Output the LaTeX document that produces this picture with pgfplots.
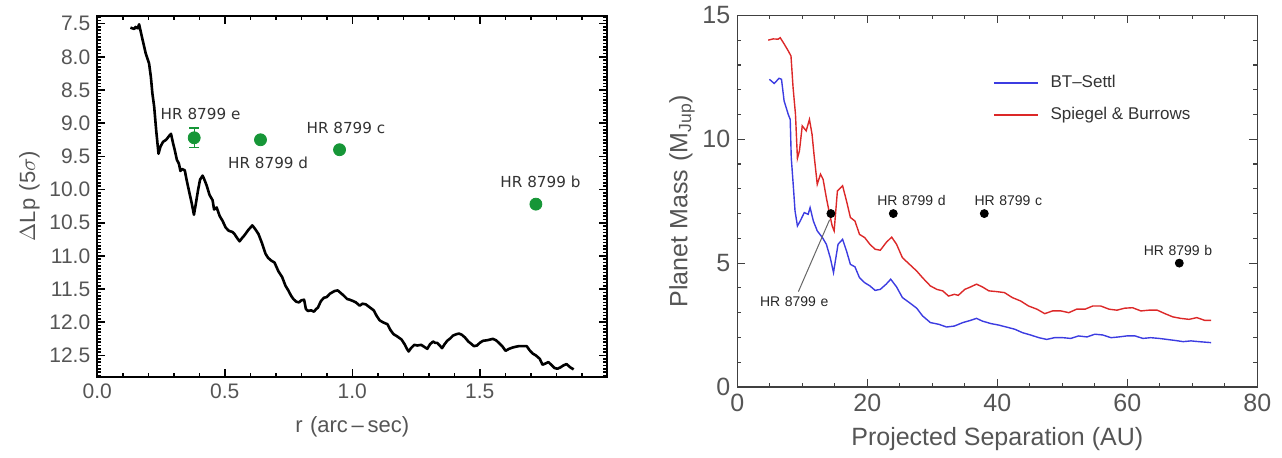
\documentclass[border=0pt]{standalone}
\usepackage{fontspec}
\setmainfont{Liberation Sans}
\newfontfamily\dejavu{DejaVu Sans}
\usepackage{pgfplots}
\pgfplotsset{compat=1.18}
\definecolor{dotgreen}{RGB}{22,150,55}
\definecolor{tickgray}{RGB}{85,85,85}
\definecolor{sbred}{RGB}{220,40,40}
\definecolor{btblue}{RGB}{60,60,225}

\pgfplotstableread{
r dl
0.130 7.56
0.145 7.58
0.150 7.55
0.158 7.57
0.164 7.51
0.175 7.70
0.190 7.95
0.203 8.10
0.210 8.30
0.216 8.55
0.223 8.75
0.231 9.11
0.240 9.46
0.248 9.35
0.258 9.28
0.270 9.25
0.280 9.20
0.289 9.16
0.297 9.30
0.304 9.41
0.312 9.55
0.320 9.61
0.326 9.72
0.332 9.69
0.343 9.71
0.350 9.85
0.359 10.01
0.370 10.20
0.379 10.38
0.387 10.20
0.395 10.01
0.403 9.85
0.413 9.79
0.421 9.86
0.429 9.94
0.440 10.08
0.452 10.16
0.458 10.30
0.468 10.27
0.480 10.40
0.491 10.47
0.503 10.57
0.515 10.62
0.530 10.64
0.538 10.67
0.550 10.74
0.558 10.78
0.568 10.73
0.577 10.69
0.592 10.61
0.608 10.54
0.620 10.60
0.632 10.67
0.645 10.80
0.660 10.97
0.670 11.03
0.682 11.07
0.695 11.10
0.710 11.23
0.725 11.32
0.738 11.45
0.749 11.52
0.760 11.60
0.769 11.65
0.780 11.69
0.791 11.70
0.800 11.67
0.811 11.66
0.818 11.80
0.826 11.83
0.838 11.82
0.850 11.84
0.858 11.80
0.865 11.78
0.877 11.68
0.889 11.63
0.900 11.62
0.912 11.57
0.930 11.53
0.943 11.52
0.955 11.56
0.967 11.60
0.980 11.65
0.990 11.66
1.003 11.68
1.014 11.70
1.029 11.75
1.040 11.72
1.053 11.73
1.070 11.78
1.084 11.82
1.095 11.90
1.107 11.97
1.120 12.00
1.138 12.03
1.150 12.12
1.162 12.18
1.175 12.21
1.193 12.26
1.205 12.33
1.214 12.40
1.221 12.44
1.230 12.39
1.243 12.34
1.255 12.35
1.270 12.34
1.282 12.37
1.294 12.40
1.305 12.33
1.317 12.29
1.325 12.31
1.333 12.31
1.343 12.35
1.352 12.39
1.362 12.33
1.372 12.28
1.385 12.24
1.395 12.20
1.408 12.18
1.419 12.17
1.430 12.19
1.442 12.23
1.455 12.29
1.465 12.32
1.477 12.36
1.489 12.35
1.500 12.31
1.512 12.28
1.530 12.27
1.551 12.25
1.563 12.27
1.575 12.31
1.588 12.36
1.601 12.43
1.615 12.40
1.629 12.38
1.640 12.37
1.653 12.36
1.670 12.36
1.684 12.36
1.695 12.42
1.707 12.47
1.720 12.50
1.735 12.55
1.746 12.64
1.758 12.62
1.769 12.60
1.780 12.64
1.793 12.69
1.805 12.70
1.816 12.68
1.828 12.65
1.840 12.63
1.855 12.68
1.868 12.71
}\contrast

\pgfplotstableread{
x m
4.75 14.00
5.5 14.05
6.29 14.04
6.6 14.10
7.2 13.85
7.83 13.57
8.26 13.36
8.58 12.09
8.95 11.01
9.25 9.23
9.56 9.53
9.99 10.54
10.6 10.34
11.1 10.80
11.5 10.20
11.8 9.39
12.3 8.18
12.8 8.59
13.2 8.38
13.7 7.64
14.1 7.11
14.6 6.50
14.9 6.30
15.4 7.91
16.2 8.12
16.8 7.51
17.4 6.84
18.1 6.70
18.8 6.16
19.6 6.03
20.4 5.76
21.2 5.56
22.0 5.52
22.9 5.83
23.75 6.05
24.5 5.76
25.4 5.22
26.5 4.95
27.6 4.68
28.5 4.41
29.7 4.08
30.7 3.94
31.6 3.88
32.5 3.67
33.4 3.74
34.0 3.70
35.0 3.94
35.9 4.04
36.8 4.15
37.7 4.04
38.7 3.88
39.9 3.85
41.1 3.81
42.3 3.61
43.6 3.47
44.8 3.27
46.1 3.14
47.3 2.96
48.5 3.07
49.8 3.07
51.0 3.00
52.2 3.14
53.5 3.14
54.7 3.27
55.9 3.27
57.2 3.14
58.4 3.10
59.6 3.18
60.8 3.20
62.1 3.07
63.3 3.10
64.6 3.10
65.8 2.96
67.0 2.83
68.2 2.77
69.5 2.73
70.7 2.80
71.9 2.69
72.9 2.69
}\spiegel

\pgfplotstableread{
x m
4.94 12.42
5.68 12.25
6.42 12.46
6.8 12.42
7.2 11.55
7.83 11.01
8.14 10.80
8.3 9.26
8.6 8.18
8.88 7.11
9.25 6.50
9.68 6.70
10.3 7.04
10.9 6.97
11.2 7.24
11.7 6.70
12.3 6.30
13.1 6.03
13.7 5.76
14.3 5.22
14.8 4.62
15.5 5.76
16.2 5.96
16.8 5.49
17.4 4.95
18.1 4.85
18.8 4.41
19.6 4.21
20.4 4.08
21.2 3.90
22.0 3.94
22.9 4.15
23.6 4.35
24.5 4.04
25.4 3.61
26.5 3.40
27.6 3.18
28.5 2.87
29.7 2.60
31.0 2.53
32.2 2.42
33.4 2.46
34.7 2.60
35.9 2.69
36.8 2.77
37.7 2.66
39.0 2.56
40.2 2.50
41.4 2.42
42.7 2.33
43.9 2.19
45.1 2.10
46.4 1.99
47.6 1.92
48.8 1.99
50.1 1.99
51.3 1.96
52.5 2.06
53.8 2.02
55.0 2.13
56.2 2.10
57.5 1.99
58.7 2.02
59.9 2.06
61.2 2.06
62.4 1.96
63.6 1.99
64.9 1.96
66.1 1.92
67.3 1.88
68.6 1.83
69.8 1.86
71.0 1.83
72.9 1.79
}\btsettl

\begin{document}
\begin{tikzpicture}[x=1pt,y=1pt]
\path (0,0) rectangle (641,223.5);
% ---------------- left panel ----------------
\begin{axis}[
  at={(176.15pt,127.25pt)}, anchor=center,
  width=255pt, height=180.5pt, scale only axis,
  xmin=0, xmax=2, ymin=7.38, ymax=12.82, y dir=reverse,
  axis line style={black, line width=1pt},
  xtick={0,0.5,1,1.5,2}, xticklabels={0.0,0.5,1.0,1.5,},
  minor x tick num=4,
  ytick={7.5,8,8.5,9,9.5,10,10.5,11,11.5,12,12.5},
  yticklabels={7.5,8.0,8.5,9.0,9.5,10.0,10.5,11.0,11.5,12.0,12.5},
  minor ytick={7.40,7.45,7.55,7.60,7.65,7.70,7.75,7.80,7.85,7.90,7.95,8.05,8.10,8.15,8.20,8.25,8.30,8.35,8.40,8.45,8.55,8.60,8.65,8.70,8.75,8.80,8.85,8.90,8.95,9.05,9.10,9.15,9.20,9.25,9.30,9.35,9.40,9.45,9.55,9.60,9.65,9.70,9.75,9.80,9.85,9.90,9.95,10.05,10.10,10.15,10.20,10.25,10.30,10.35,10.40,10.45,10.55,10.60,10.65,10.70,10.75,10.80,10.85,10.90,10.95,11.05,11.10,11.15,11.20,11.25,11.30,11.35,11.40,11.45,11.55,11.60,11.65,11.70,11.75,11.80,11.85,11.90,11.95,12.05,12.10,12.15,12.20,12.25,12.30,12.35,12.40,12.45,12.55,12.60,12.65,12.70,12.75,12.80},
  major tick length=4pt, minor tick length=2pt,
  tick style={black, line width=0.8pt},
  tick align=inside,
  xticklabel pos=bottom,
  tick label style={font=\fontsize{10.5}{12}\selectfont, text=tickgray},
  /pgf/number format/assume math mode=true,
  xlabel={r\,\,(arc\,--\,sec)},
  ylabel={$\Delta$Lp\,\,(5$\sigma$)},
  label style={font=\fontsize{11}{13}\selectfont, text=tickgray},
  xlabel style={yshift=-2pt},
  ylabel style={yshift=-2pt},
  clip=false,
]
\addplot[black, line width=1.3pt, line join=round] table[x=r, y=dl] {\contrast};
\addplot[only marks, mark=*, mark size=3pt, color=dotgreen,
  error bars/.cd, y dir=both, y explicit,
  error bar style={line width=0.7pt, dotgreen}, error mark options={rotate=90, mark size=2.5pt, dotgreen, line width=0.7pt}]
  coordinates {(0.38,9.22) +- (0,0.15)};
\addplot[only marks, mark=*, mark size=3pt, color=dotgreen]
  coordinates {(0.64,9.25) (0.95,9.40) (1.72,10.22)};
\begin{scope}[every node/.style={font=\dejavu\fontsize{7.6}{9}\selectfont, text=black!80}]
\node at (axis cs:0.405,8.86) {HR 8799 e};
\node at (axis cs:0.67,9.60) {HR 8799 d};
\node at (axis cs:0.975,9.07) {HR 8799 c};
\node at (axis cs:1.738,9.89) {HR 8799 b};
\end{scope}
\end{axis}
% ---------------- right panel ----------------
\begin{axis}[
  at={(498.65pt,124.75pt)}, anchor=center,
  width=260pt, height=185.8pt, scale only axis,
  xmin=0, xmax=80, ymin=0, ymax=15,
  axis line style={black!75, line width=0.7pt},
  xtick={0,20,40,60,80}, minor x tick num=3,
  ytick={0,5,10,15}, minor y tick num=4,
  major tick length=4pt, minor tick length=2pt,
  tick style={black!75, line width=0.6pt},
  tick align=inside,
  tick label style={font=\fontsize{12.5}{14}\selectfont, text=tickgray},
  /pgf/number format/assume math mode=true,
  xlabel={Projected Separation (AU)},
  ylabel={Planet Mass\,\,(M\textsubscript{Jup})},
  label style={font=\fontsize{12.5}{14}\selectfont, text=tickgray},
  xlabel style={yshift=-1pt},
  ylabel style={yshift=-3pt},
  legend style={draw=none, fill=none, at={(axis cs:39.3,12.75)}, anchor=north west,
    font=\fontsize{8.5}{10}\selectfont, text=black!80, row sep=4.2pt,
    inner sep=0pt},
  legend cell align=left,
  legend image code/.code={\draw[#1] (0pt,0pt) -- (22pt,0pt);},
  clip=false,
]
\addplot[btblue, line width=0.7pt] table[x=x, y=m] {\btsettl};
\addlegendentry{\hspace{4pt}BT--Settl}
\addplot[sbred, line width=0.7pt] table[x=x, y=m] {\spiegel};
\addlegendentry{\hspace{4pt}Spiegel \& Burrows}
\addplot[black!60, line width=0.5pt, forget plot] coordinates {(14.2,6.75) (9.4,3.85)};
\addplot[only marks, mark=*, mark size=2pt, black, forget plot]
  coordinates {(14.4,7) (24,7) (38,7) (68,5)};
\begin{scope}[every node/.style={font=\fontsize{7}{8}\selectfont, text=black!85}]
\node at (axis cs:26.8,7.52) {HR\,\,8799\,\,d};
\node at (axis cs:41.7,7.52) {HR\,\,8799\,\,c};
\node at (axis cs:67.8,5.52) {HR\,\,8799\,\,b};
\node at (axis cs:8.76,3.45) {HR\,\,8799\,\,e};
\end{scope}
\end{axis}
\end{tikzpicture}
\end{document}
